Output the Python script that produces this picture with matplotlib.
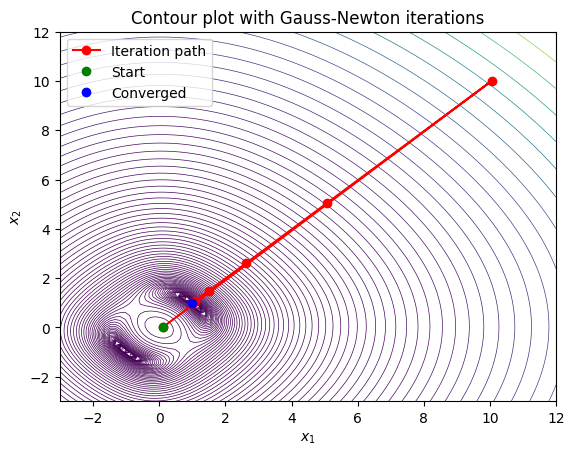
import numpy as np
import matplotlib
matplotlib.use("Agg")
import matplotlib.pyplot as plt

# Gauss-Newton iterates (x1, x2)
path_x1 = [0.1, 10.05, 5.075, 2.63, 1.50, 1.08, 1.01, 1.0]
path_x2 = [0.0, 10.00, 5.050, 2.61, 1.49, 1.07, 1.005, 1.0]
start = (0.1, 0.0)
converged = (1.0, 1.0)

x_range = (-3, 12)
y_range = (-3, 12)


def residuals(x1, x2):
    r1 = x1**2 + x2**2 - 2
    r2 = x1 * x2 - 1
    return r1, r2


x1 = np.linspace(x_range[0], x_range[1], 100)
x2 = np.linspace(y_range[0], y_range[1], 100)
X1, X2 = np.meshgrid(x1, x2)
R1, R2 = residuals(X1, X2)
Z = R1**2 + R2**2

fig, ax = plt.subplots()
ax.contour(X1, X2, Z, levels=np.logspace(-3, 5, 100), cmap='viridis', linewidths=0.5)
ax.plot(path_x1, path_x2, 'ro-', label='Iteration path')
ax.plot(start[0], start[1], 'go', label='Start')
ax.plot(converged[0], converged[1], 'bo', label='Converged')
ax.set_xlabel('$x_1$')
ax.set_ylabel('$x_2$')
ax.set_title('Contour plot with Gauss-Newton iterations')
ax.legend(loc='upper left')
fig.savefig('out.png', bbox_inches='tight')
